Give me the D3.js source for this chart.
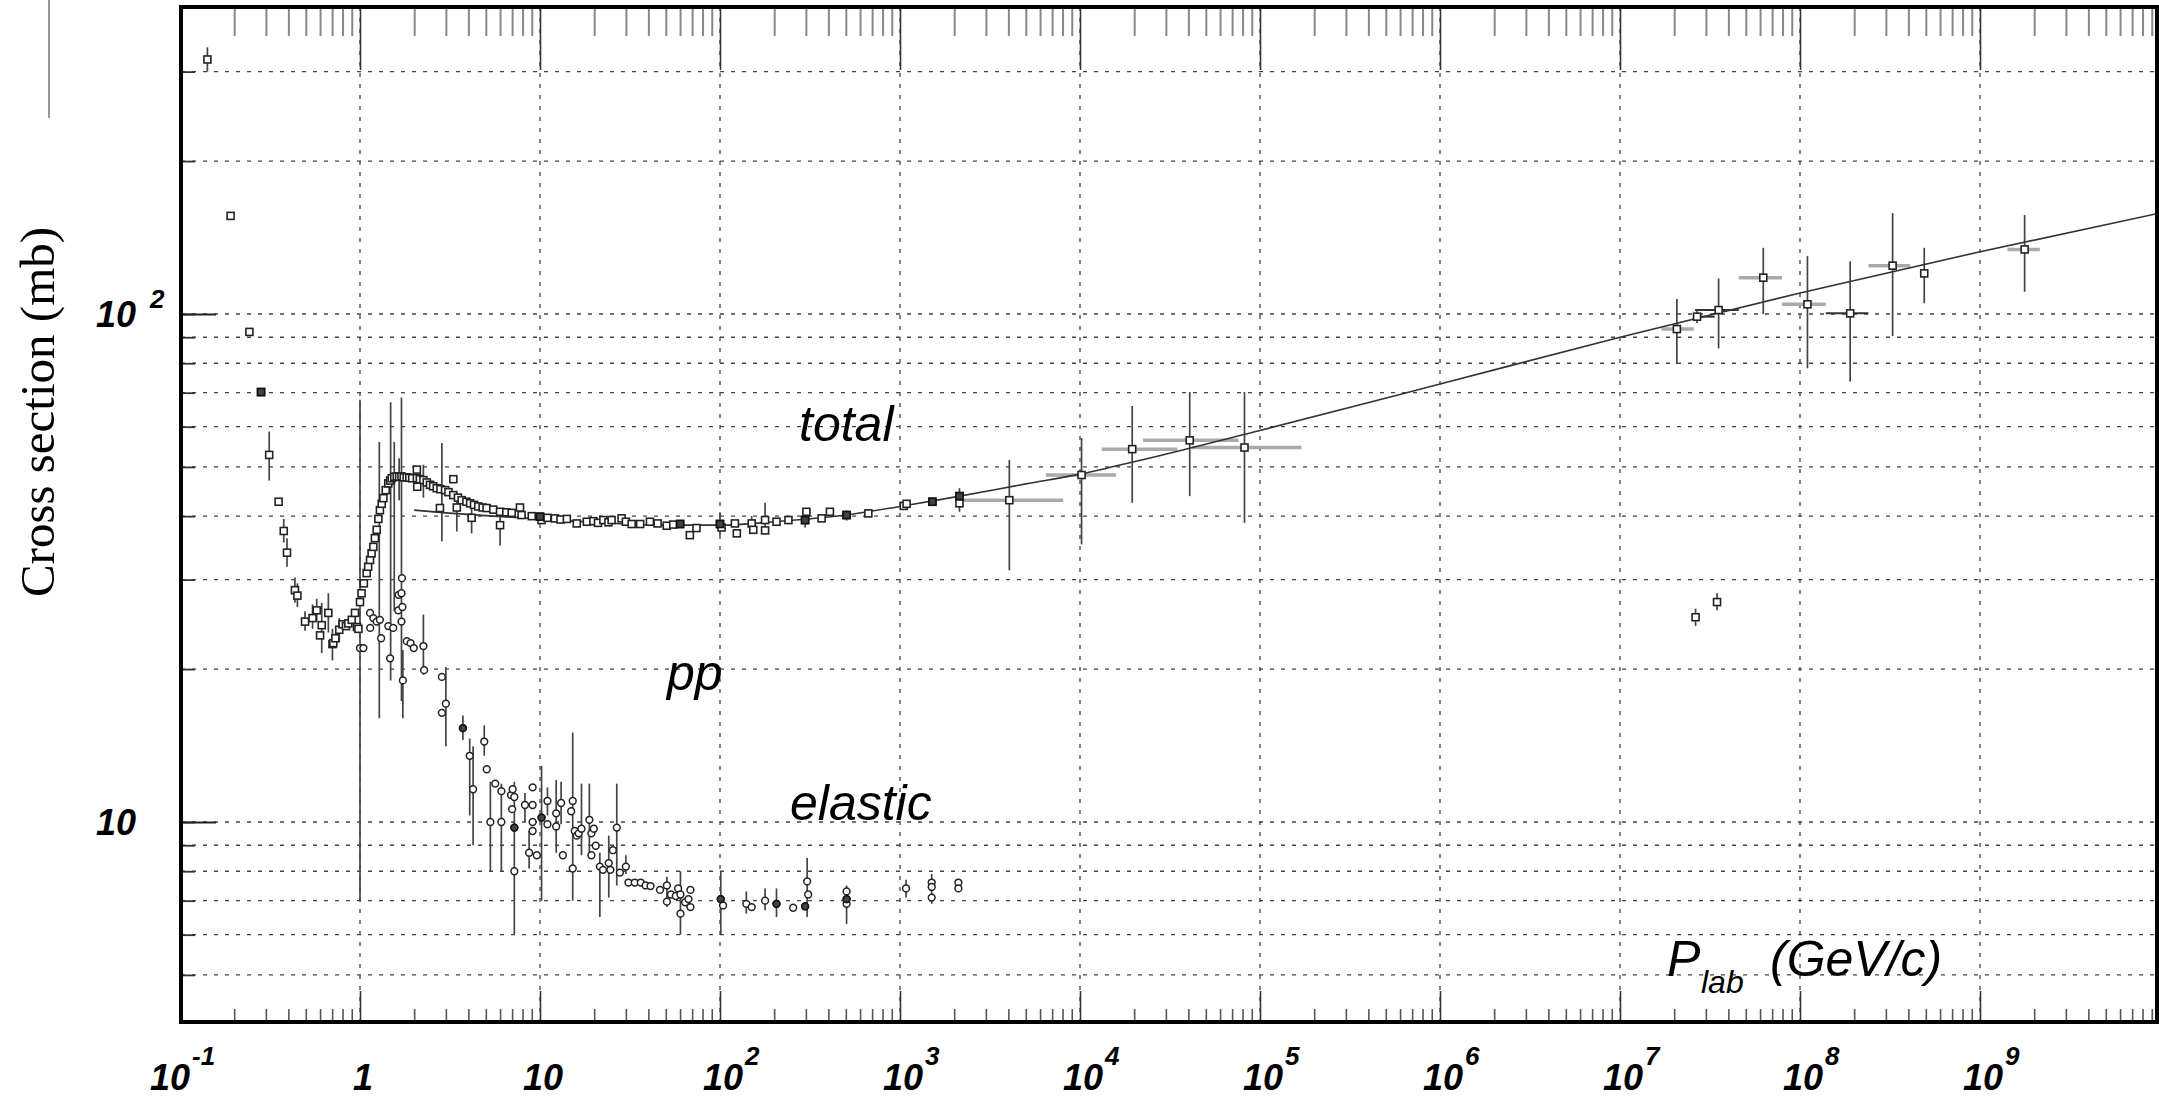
<!DOCTYPE html>
<html>
<head>
<meta charset="utf-8">
<script src="https://cdnjs.cloudflare.com/ajax/libs/d3/7.8.5/d3.min.js"></script>
<style>
body { margin: 0; background: #fff; }
svg { display: block; }
text { font-family: "Liberation Sans", Arial, sans-serif; }
</style>
</head>
<body>
<script>
// ---- data (p in GeV/c, sigma in mb) ----
var totalPoints = [
  [0.142,317],[0.191,156],[0.243,92.2],[0.282,70.2],[0.313,52.8],[0.353,42.7],[0.377,37.4],[0.393,33.9],
  [0.435,28.6],[0.449,27.9],[0.495,24.8],[0.545,25.2],[0.575,26.1],[0.613,24.4],[0.600,23.3],[0.667,25.8],
  [0.703,22.4],[0.711,22.5],[0.73,23.0],[0.767,23.9],[0.80,24.5],[0.836,24.3],[0.861,24.6],[0.90,25.0],
  [0.938,25.8],[0.962,24.2],[0.98,24.0],
  [1.0,27.1],[1.02,28.2],[1.05,29.5],[1.089,30.9],[1.11,31.8],[1.137,32.8],[1.16,33.8],[1.186,34.8],
  [1.21,36.2],[1.238,37.6],[1.265,39.5],[1.29,41.1],[1.32,42.3],[1.349,43.4],[1.39,45.0],[1.436,46.4],
  [1.47,47.0],[1.5,47.5],[1.55,47.8],[1.6,47.9],[1.65,47.8],[1.7,47.9],[1.75,47.7],[1.816,47.7],
  [1.88,47.6],[1.95,47.5],[2.07,47.5],[2.15,47.3],[2.25,47.1],[2.35,46.6],[2.45,46.1],[2.55,45.8],
  [2.67,45.4],[2.8,45.2],[2.97,45.0],[3.1,44.6],[3.3,44.0],[3.5,43.5],[3.67,43.0],[3.9,42.7],
  [4.09,42.4],[4.3,42.1],[4.54,41.8],[4.8,41.6],[5.05,41.5],[5.5,41.2],[6.0,40.8],[6.5,40.7],
  [6.96,40.6],[7.9,40.2],[9.0,40.0],[10,39.9],[10.2,39.3],[11,39.7],[12.1,39.6],[13,39.4],[14.1,39.5],
  [16,38.7],[18.2,39.0],[19.8,39.1],[21,38.8],[22.5,39.3],[24,38.9],[25,39.3],[28.4,39.6],[30,39.0],
  [32.3,38.6],[36,38.6],[40.8,39.0],[45,38.7],[50.6,38.3],[55,38.5],[60,38.6],[68,36.7],[74,37.9],
  [100,38.6],[102,38.0],[121,38.7],[124,37.0],[150,38.7],[153,37.6],[178,39.3],[178,37.5],[206,39.0],
  [240,39.3],[297,39.3],[302,40.8],[367,39.6],[408,40.8],[505,40.2],[667,40.5],[1050,41.9],[1088,42.3],
  [1514,42.7],[2140,43.8],[2140,42.4],
  [2.07,49.4],[2.08,45.7],[2.78,41.5],[3.3,47.3],[3.45,41.6],[4.17,39.7],[6.0,38.4],[7.74,41.6],
  [4050,43.0],[10200,48.2],[19500,54.2],[40700,56.4],[82000,54.6],
  [2.07e7,93.4],[2.68e7,98.8],[3.53e7,101.8],[6.25e7,117.9],[1.1e8,104.5],[1.9e8,100.3],[3.27e8,124.5],
  [4.9e8,120.2],[1.77e9,134],[2.63e7,25.3],[3.46e7,27.1]
];
var totalFilled = [[0.282,70.2],[297,39.3],[505,40.2],[1514,42.7],[2140,43.8],[100,38.6],[60,38.6],[10,39.9]];
var totalErrorBars = [
  [0.142,300,335],[0.313,47,58.7],[0.377,35.5,39.5],[0.393,31.8,36.2],[0.435,27,30.3],[0.449,26.5,29.5],
  [0.495,23.8,26],[0.545,24,26.8],[0.575,24.8,27.5],[0.613,21.5,27],[0.667,23.6,28.2],[0.703,20.8,24],
  [0.767,22.6,25.2],[1.28,16,56],[1.48,19,67],[1.55,26,56],[1.7,17.3,68.5],[2.85,35.7,55.7],
  [3.45,37.3,44],[4.17,37.0,43.0],[6.0,35.0,41.5],[2.25,43.5,50.5],[1.65,43,52],
  [100,36.7,40.7],[150,37,40],[178,37,42.5],[297,38,40.5],[505,39.2,41],[2140,40.8,45.4],
  [4050,31.3,51.6],[10200,35.2,57],[19500,42.5,65.9],[40700,43.8,70.2],[82000,38.8,70.2],
  [2.07e7,79.7,107],[2.68e7,96,101.5],[3.53e7,85.6,117.5],[6.25e7,100,135],[1.1e8,78.2,130],
  [1.9e8,73.6,127],[3.27e8,90.5,158],[4.9e8,105,135],[1.77e9,110.6,156.6],[2.63e7,24.3,26.3],[3.46e7,26.1,28.2]
];
// [sigma, pLow, pHigh, dark]
var totalPErrorBars = [
  [43.0,2150,8070,0],[48.2,6460,15850,0],[54.2,13200,34700,0],[56.4,22400,75900,0],[54.6,41700,170000,0],
  [93.4,1.7e7,2.57e7,0],[98.8,2.54e7,3.36e7,1],[101.8,2.61e7,4.57e7,1],[117.9,4.57e7,7.94e7,0],
  [104.5,7.94e7,1.39e8,0],[100.3,1.39e8,2.4e8,1],[124.5,2.4e8,4.1e8,0],[134,1.42e9,2.15e9,0]
];
var elasticPoints = [
  [1.0,22.0],[1.044,22.0],[1.14,24.1],[1.137,25.8],[1.186,25.2],[1.238,24.8],[1.29,25.0],[1.31,23.0],
  [1.436,24.3],[1.47,21.0],[1.53,24.1],[1.63,26.1],[1.64,28.0],[1.71,30.2],[1.7,28.2],[1.72,26.5],[1.7,24.8],
  [1.73,19.0],[1.82,22.7],[1.91,22.5],[1.99,22.0],[2.25,22.2],[2.27,19.9],[2.85,19.3],[2.85,16.4],
  [3.0,17.1],[3.73,15.3],[4.07,13.5],[4.25,11.6],[4.9,14.4],[5.06,12.7],[5.3,10.0],[5.64,11.9],
  [6.1,11.5],[6.1,10.0],[6.9,11.3],[7.05,11.6],[7.2,11.2],[7.0,10.6],[7.2,9.75],[7.2,8.0],[8.25,10.8],
  [8.7,8.7],[9.1,11.7],[9.1,10.8],[9.1,10.0],[9.1,9.6],[9.6,8.6],[10.2,10.2],[11.0,11.0],[11.0,9.9],
  [12.3,10.4],[12.3,9.8],[13.1,10.9],[13.4,8.6],[15.2,11.0],[14.9,10.5],[15.6,9.6],[16.0,9.4],[15.2,8.1],
  [16.4,9.5],[17.0,9.7],[18.8,10.1],[19.3,9.5],[19.9,9.7],[20.4,8.98],[19.3,8.6],[21.5,8.17],[22.4,8.05],
  [24.1,8.3],[24.6,8.05],[25.4,8.8],[26.7,9.75],[27.8,7.95],[30,8.17],[31,7.6],[33.6,7.6],[36.3,7.6],
  [38.6,7.5],[41.1,7.48],[46.4,7.35],[50.7,7.5],[50.7,6.97],[53.4,7.2],[56.8,7.15],[58.5,7.4],[60.3,6.6],
  [60.3,7.2],[64,6.95],[66.8,7.05],[68.5,7.35],[68.5,6.8],[101,7.05],[104,6.85],[140,6.9],[150,6.8],
  [178,7.0],[206,6.9],[255,6.78],[297,6.82],[305,7.64],[309,7.2],[505,7.3],[505,6.9],[505,7.05],
  [1080,7.4],[1500,7.6],[1500,7.45],[1500,7.1],[2110,7.6],[2110,7.4]
];
var elasticFilled = [[3.73,15.3],[7.2,9.75],[10.2,10.2],[101,7.05],[206,6.9],[297,6.82],[505,7.05]];
var elasticErrorBars = [
  [1.0,7.0,67.8],[1.73,16,21.8],[2.25,19.5,25.6],[3.0,14.1,20.2],[3.73,14.5,16.2],[4.25,9.0,14.1],
  [4.07,10.3,14.6],[4.9,13.5,15.5],[5.3,8.0,12.0],[6.1,8.0,11.9],[7.2,6.0,12.0],[8.25,10.0,11.4],
  [8.7,8.1,9.6],[10.2,7.0,12.9],[11.0,10.3,11.7],[12.3,8.7,12.1],[13.1,9.9,12.0],[15.2,7.0,15.0],
  [17.0,8.6,11.9],[18.8,8.6,11.9],[21.5,6.5,8.7],[24.1,7.1,9.4],[26.7,7.5,11.9],[30,7.9,8.6],
  [50.7,6.8,7.8],[60.3,6.0,8.0],[101,6.0,8.0],[140,6.6,7.3],[178,6.7,7.4],[206,6.5,7.4],
  [305,6.5,8.5],[505,6.3,7.5],[1080,7.1,7.7],[1500,6.9,7.9]
];
var fitCurve = [
  [2.0,41.1],[3,40.6],[5,40.1],[10,39.5],[20,38.9],[50,38.4],[100,38.4],[200,39.0],[500,40.2],
  [1000,41.8],[2000,43.6],[5000,46.3],[1e4,48.4],[2.2e4,51.6],[1e5,59],[1e6,72.8],
  [1e7,90],[1e8,110],[1e9,132.6],[1e10,158]
];
var xMajorTicks = [0.1,1,10,1e2,1e3,1e4,1e5,1e6,1e7,1e8,1e9];
var xTickLabels = [["10","-1"],["1",""],["10",""],["10","2"],["10","3"],["10","4"],["10","5"],["10","6"],["10","7"],["10","8"],["10","9"]];
var yGridValues = [5,6,7,8,9,10,20,30,40,50,60,70,80,90,100,200,300];
var yMajorTicks = [10,100];
var yTickLabels = [["10",""],["10","2"]];

// ---- layout ----
var W = 2159, H = 1099;
var L = 181, T = 7, R = 2157, B = 1022;

var x = d3.scaleLog().domain([1,1e9]).range([360,1980]);
var y = d3.scaleLog().domain([10,100]).range([822,314]);

var svg = d3.select("body").append("svg").attr("width",W).attr("height",H);

// minor x ticks 2..9 per decade
var xMinor = [];
xMajorTicks.forEach(function(d){ for (var k=2;k<10;k++) xMinor.push(d*k); });

// grid
svg.append("g").selectAll("line").data(yGridValues).enter().append("line")
  .attr("x1",L).attr("x2",R).attr("y1",function(d){return y(d);}).attr("y2",function(d){return y(d);})
  .attr("stroke","#444").attr("stroke-width",1.3).attr("stroke-dasharray","4,7");
svg.append("g").selectAll("line").data(xMajorTicks.slice(1)).enter().append("line")
  .attr("y1",T).attr("y2",B).attr("x1",function(d){return x(d);}).attr("x2",function(d){return x(d);})
  .attr("stroke","#444").attr("stroke-width",1.3).attr("stroke-dasharray","4,7");

// error bars
var bars = svg.append("g");
bars.selectAll(".tv").data(totalErrorBars.concat(elasticErrorBars)).enter().append("line")
  .attr("x1",function(d){return x(d[0]);}).attr("x2",function(d){return x(d[0]);})
  .attr("y1",function(d){return y(d[1]);}).attr("y2",function(d){return y(d[2]);})
  .attr("stroke","#444").attr("stroke-width",1.7);
bars.selectAll(".th").data(totalPErrorBars).enter().append("line")
  .attr("x1",function(d){return x(d[1]);}).attr("x2",function(d){return x(d[2]);})
  .attr("y1",function(d){return y(d[0]);}).attr("y2",function(d){return y(d[0]);})
  .attr("stroke",function(d){return d[3] ? "#333" : "#aaa";})
  .attr("stroke-width",function(d){return d[3] ? 2 : 3.5;});

// fit
svg.append("path").datum(fitCurve)
  .attr("d",d3.line().x(function(d){return x(d[0]);}).y(function(d){return y(d[1]);}).curve(d3.curveMonotoneX))
  .attr("fill","none").attr("stroke","#333").attr("stroke-width",1.6);

// markers
var s = 7;
svg.append("g").selectAll("rect").data(totalPoints).enter().append("rect")
  .attr("x",function(d){return x(d[0])-s/2;}).attr("y",function(d){return y(d[1])-s/2;})
  .attr("width",s).attr("height",s).attr("fill","#fff").attr("stroke","#222").attr("stroke-width",1.6);
svg.append("g").selectAll("rect").data(totalFilled).enter().append("rect")
  .attr("x",function(d){return x(d[0])-s/2;}).attr("y",function(d){return y(d[1])-s/2;})
  .attr("width",s).attr("height",s).attr("fill","#444").attr("stroke","#111").attr("stroke-width",1.6);
svg.append("g").selectAll("circle").data(elasticPoints).enter().append("circle")
  .attr("cx",function(d){return x(d[0]);}).attr("cy",function(d){return y(d[1]);}).attr("r",3.4)
  .attr("fill","#fff").attr("stroke","#222").attr("stroke-width",1.5);
svg.append("g").selectAll("circle").data(elasticFilled).enter().append("circle")
  .attr("cx",function(d){return x(d[0]);}).attr("cy",function(d){return y(d[1]);}).attr("r",3.4)
  .attr("fill","#444").attr("stroke","#111").attr("stroke-width",1.5);

// axes ticks (inward)
function clean(g){ g.select(".domain").remove(); g.selectAll("text").remove(); }
svg.append("g").attr("transform","translate(0,"+T+")")
  .call(d3.axisBottom(x).tickValues(xMinor).tickSize(29).tickFormat(""))
  .call(clean).selectAll("line").attr("stroke","#888").attr("stroke-width",2);
svg.append("g").attr("transform","translate(0,"+T+")")
  .call(d3.axisBottom(x).tickValues(xMajorTicks.slice(1)).tickSize(63).tickFormat(""))
  .call(clean).selectAll("line").attr("stroke","#333").attr("stroke-width",1.6);
svg.append("g").attr("transform","translate(0,"+B+")")
  .call(d3.axisTop(x).tickValues(xMinor).tickSize(13).tickFormat(""))
  .call(clean).selectAll("line").attr("stroke","#555").attr("stroke-width",1.6);
svg.append("g").attr("transform","translate(0,"+B+")")
  .call(d3.axisTop(x).tickValues(xMajorTicks.slice(1)).tickSize(31).tickFormat(""))
  .call(clean).selectAll("line").attr("stroke","#333").attr("stroke-width",1.6);
svg.append("g").attr("transform","translate("+L+",0)")
  .call(d3.axisRight(y).tickValues(yGridValues).tickSize(14).tickFormat(""))
  .call(clean).selectAll("line").attr("stroke","#333").attr("stroke-width",1.8);
svg.append("g").attr("transform","translate("+L+",0)")
  .call(d3.axisRight(y).tickValues(yMajorTicks).tickSize(35).tickFormat(""))
  .call(clean).selectAll("line").attr("stroke","#222").attr("stroke-width",2);

// frame
svg.append("rect").attr("x",L).attr("y",T).attr("width",R-L).attr("height",B-T)
  .attr("fill","none").attr("stroke","#000").attr("stroke-width",4);
svg.append("line").attr("x1",49).attr("x2",49).attr("y1",0).attr("y2",118)
  .attr("stroke","#999").attr("stroke-width",2);

// x tick labels
var xl = svg.append("g").selectAll("g").data(xMajorTicks).enter().append("g")
  .attr("transform",function(d,i){
    var dx = xTickLabels[i][1].length > 1 ? -10 : 3;
    return "translate("+(x(d)+dx)+",1090)";
  });
xl.append("text").attr("text-anchor","middle").attr("font-size",36).attr("font-weight","bold")
  .attr("font-style","italic").text(function(d,i){return xTickLabels[i][0];});
xl.append("text").attr("x",22).attr("y",-25).attr("font-size",26).attr("font-weight","bold")
  .attr("font-style","italic").text(function(d,i){return xTickLabels[i][1];});

// y tick labels
var yl = svg.append("g").selectAll("g").data(yMajorTicks).enter().append("g")
  .attr("transform",function(d){return "translate(136,"+(y(d)+13)+")";});
yl.append("text").attr("text-anchor","end").attr("font-size",36).attr("font-weight","bold")
  .attr("font-style","italic").text(function(d,i){return yTickLabels[i][0];});
yl.append("text").attr("x",14).attr("y",-19).attr("font-size",26).attr("font-weight","bold")
  .attr("font-style","italic").text(function(d,i){return yTickLabels[i][1];});

// annotations
function label(tx,ty,str,size){
  return svg.append("text").attr("x",tx).attr("y",ty).attr("font-size",size)
    .attr("font-style","italic").text(str);
}
label(799,441,"total",50);
label(667,690,"pp",50);
label(790,820,"elastic",50);
label(1667,976,"P",50);
label(1701,993,"lab",32);
label(1770,976,"(GeV/c)",50);

svg.append("text").attr("transform","translate(54,412) rotate(-90)")
  .attr("text-anchor","middle").attr("font-size",49)
  .style("font-family","'Liberation Serif','Times New Roman',serif")
  .text("Cross section (mb)");
</script>
</body>
</html>
